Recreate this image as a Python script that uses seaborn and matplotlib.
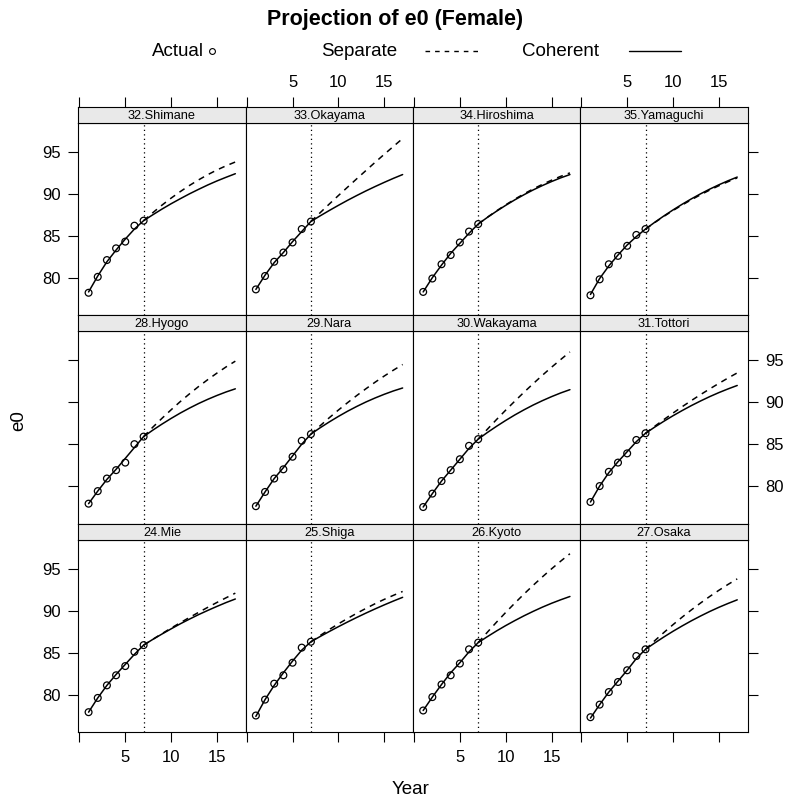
import matplotlib
matplotlib.use("Agg")
import matplotlib.pyplot as plt
from matplotlib.lines import Line2D
import pandas as pd
import seaborn as sns

sns.set_theme(style="ticks", rc={"axes.edgecolor": "black", "axes.linewidth": 0.8,
                                 "xtick.color": "black", "ytick.color": "black",
                                 "text.color": "black", "axes.labelcolor": "black"})
plt.rcParams["font.family"] = ["Liberation Sans", "DejaVu Sans"]

# ---- data -------------------------------------------------------------
years_actual = [1, 2, 3, 4, 5, 6, 7]
years_coherent = list(range(1, 18))
years_separate = list(range(7, 18))
jump_off_year = 7

prefectures = ["24.Mie", "25.Shiga", "26.Kyoto", "27.Osaka",
               "28.Hyogo", "29.Nara", "30.Wakayama", "31.Tottori",
               "32.Shimane", "33.Okayama", "34.Hiroshima", "35.Yamaguchi"]

actual_mie = [77.9, 79.6, 81.1, 82.3, 83.4, 85.1, 85.9]
actual_shiga = [77.5, 79.4, 81.3, 82.3, 83.8, 85.6, 86.3]
actual_kyoto = [78.1, 79.7, 81.2, 82.3, 83.7, 85.4, 86.2]
actual_osaka = [77.3, 78.8, 80.3, 81.5, 82.9, 84.6, 85.4]
actual_hyogo = [77.9, 79.4, 80.9, 81.9, 82.8, 85.0, 85.9]
actual_nara = [77.6, 79.3, 80.9, 82.0, 83.5, 85.4, 86.2]
actual_wakayama = [77.5, 79.1, 80.6, 81.9, 83.2, 84.8, 85.6]
actual_tottori = [78.1, 80.0, 81.7, 82.8, 83.9, 85.5, 86.3]
actual_shimane = [78.2, 80.1, 82.1, 83.5, 84.3, 86.2, 86.8]
actual_okayama = [78.6, 80.2, 81.9, 83.0, 84.2, 85.8, 86.7]
actual_hiroshima = [78.3, 79.9, 81.6, 82.7, 84.2, 85.5, 86.4]
actual_yamaguchi = [77.9, 79.8, 81.6, 82.6, 83.8, 85.1, 85.8]

coherent_mie = [77.9, 79.6, 81.1, 82.4, 83.6, 84.8, 85.9, 86.58, 87.22, 87.84, 88.44,
                89.00, 89.54, 90.04, 90.52, 90.98, 91.40]
coherent_shiga = [77.4, 79.4, 81.1, 82.6, 84.0, 85.3, 86.3, 86.92, 87.52, 88.10, 88.66,
                  89.20, 89.72, 90.22, 90.70, 91.16, 91.60]
coherent_kyoto = [78.1, 79.7, 81.2, 82.6, 83.8, 85.1, 86.2, 86.91, 87.59, 88.23, 88.83,
                  89.40, 89.93, 90.43, 90.89, 91.31, 91.70]
coherent_osaka = [77.2, 78.8, 80.3, 81.6, 82.9, 84.3, 85.4, 86.15, 86.87, 87.55, 88.19,
                  88.80, 89.37, 89.91, 90.41, 90.87, 91.30]
coherent_hyogo = [77.9, 79.4, 80.8, 82.0, 83.3, 84.6, 85.9, 86.67, 87.39, 88.07, 88.71,
                  89.30, 89.85, 90.35, 90.81, 91.23, 91.60]
coherent_nara = [77.6, 79.3, 80.9, 82.2, 83.6, 85.0, 86.2, 86.95, 87.65, 88.31, 88.93,
                 89.50, 90.03, 90.51, 90.95, 91.35, 91.70]
coherent_wakayama = [77.5, 79.1, 80.6, 81.9, 83.2, 84.5, 85.6, 86.39, 87.13, 87.83, 88.49,
                     89.10, 89.67, 90.19, 90.67, 91.11, 91.50]
coherent_tottori = [78.1, 80.0, 81.6, 82.9, 84.1, 85.3, 86.3, 87.03, 87.73, 88.39, 89.01,
                    89.60, 90.15, 90.67, 91.15, 91.59, 92.00]
coherent_shimane = [78.3, 80.2, 81.9, 83.3, 84.6, 85.8, 86.8, 87.50, 88.18, 88.82, 89.42,
                    90.00, 90.54, 91.06, 91.54, 91.98, 92.40]
coherent_okayama = [78.6, 80.3, 81.8, 83.0, 84.3, 85.5, 86.7, 87.37, 88.01, 88.63, 89.23,
                    89.80, 90.35, 90.87, 91.37, 91.85, 92.30]
coherent_hiroshima = [78.3, 80.0, 81.5, 82.9, 84.1, 85.3, 86.4, 87.19, 87.93, 88.63, 89.29,
                      89.90, 90.47, 90.99, 91.47, 91.91, 92.30]
coherent_yamaguchi = [78.0, 79.9, 81.4, 82.7, 83.9, 84.9, 85.8, 86.60, 87.36, 88.08, 88.76,
                      89.40, 90.00, 90.56, 91.08, 91.56, 92.00]

separate_mie = [85.9, 86.59, 87.27, 87.93, 88.57, 89.20, 89.81, 90.41, 90.99, 91.55, 92.10]
separate_shiga = [86.3, 87.04, 87.76, 88.44, 89.08, 89.70, 90.28, 90.84, 91.36, 91.84, 92.30]
separate_kyoto = [86.2, 87.44, 88.64, 89.80, 90.92, 92.00, 93.04, 94.04, 95.00, 95.92, 96.80]
separate_osaka = [85.4, 86.42, 87.40, 88.34, 89.24, 90.10, 90.92, 91.70, 92.44, 93.14, 93.80]
separate_hyogo = [85.9, 87.02, 88.08, 89.10, 90.08, 91.00, 91.88, 92.70, 93.48, 94.22, 94.90]
separate_nara = [86.2, 87.19, 88.15, 89.07, 89.95, 90.80, 91.61, 92.39, 93.13, 93.83, 94.50]
separate_wakayama = [85.6, 86.78, 87.94, 89.06, 90.14, 91.20, 92.22, 93.22, 94.18, 95.10, 96.00]
separate_tottori = [86.3, 87.13, 87.93, 88.71, 89.47, 90.20, 90.91, 91.59, 92.25, 92.89, 93.50]
separate_shimane = [86.8, 87.75, 88.65, 89.49, 90.27, 91.00, 91.67, 92.29, 92.85, 93.35, 93.80]
separate_okayama = [86.7, 87.74, 88.78, 89.80, 90.80, 91.80, 92.78, 93.76, 94.72, 95.66, 96.60]
separate_hiroshima = [86.4, 87.21, 87.97, 88.69, 89.37, 90.00, 90.59, 91.13, 91.63, 92.09, 92.50]
separate_yamaguchi = [85.8, 86.57, 87.31, 88.01, 88.67, 89.30, 89.89, 90.45, 90.97, 91.45, 91.90]

x_ticks = [0, 5, 10, 15]
x_tick_labels = ["", "5", "10", "15"]
y_ticks = [80, 85, 90, 95]

actual_all = [actual_mie, actual_shiga, actual_kyoto, actual_osaka,
              actual_hyogo, actual_nara, actual_wakayama, actual_tottori,
              actual_shimane, actual_okayama, actual_hiroshima, actual_yamaguchi]
coherent_all = [coherent_mie, coherent_shiga, coherent_kyoto, coherent_osaka,
                coherent_hyogo, coherent_nara, coherent_wakayama, coherent_tottori,
                coherent_shimane, coherent_okayama, coherent_hiroshima, coherent_yamaguchi]
separate_all = [separate_mie, separate_shiga, separate_kyoto, separate_osaka,
                separate_hyogo, separate_nara, separate_wakayama, separate_tottori,
                separate_shimane, separate_okayama, separate_hiroshima, separate_yamaguchi]

records = []
for name, act, coh, sep in zip(prefectures, actual_all, coherent_all, separate_all):
    records += [(name, "Actual", y, v) for y, v in zip(years_actual, act)]
    records += [(name, "Coherent", y, v) for y, v in zip(years_coherent, coh)]
    records += [(name, "Separate", y, v) for y, v in zip(years_separate, sep)]
df = pd.DataFrame(records, columns=["region", "kind", "year", "e0"])

# ---- layout (lattice style 4 x 3, bottom row first in panel order) -----
W, H = 787, 798
fig = plt.figure(figsize=(W / 100, H / 100), dpi=100)
fig.patch.set_facecolor("white")

col_left = [78.3, 245.6, 412.9, 580.2]
col_w = 167.3
row_top = [107.0, 315.4, 523.9]
strip_h = 16.0
panel_h = 192.4
xlim = (-0.12, 18.12)
ylim = (75.5, 98.45)

grid = [prefectures[8:12], prefectures[4:8], prefectures[0:4]]

tick_kw = dict(direction="out", length=7, width=0.8, pad=5.5, labelsize=12)

for r in range(3):
    for c in range(4):
        name = grid[r][c]
        sub = df[df["region"] == name]
        x0 = col_left[c] / W
        w = col_w / W
        top = row_top[r]
        ax = fig.add_axes([x0, 1 - (top + strip_h + panel_h) / H, w, panel_h / H])
        sax = fig.add_axes([x0, 1 - (top + strip_h) / H, w, strip_h / H])

        ax.axvline(jump_off_year, color="black", lw=0.9, ls=(0, (1, 2.6)), zorder=1)
        sns.lineplot(data=sub[sub["kind"] == "Separate"], x="year", y="e0", ax=ax,
                     color="black", lw=1.1, ls=(0, (4, 3.5)), errorbar=None,
                     legend=False, zorder=2)
        sns.lineplot(data=sub[sub["kind"] == "Coherent"], x="year", y="e0", ax=ax,
                     color="black", lw=1.1, errorbar=None, legend=False, zorder=3)
        sns.scatterplot(data=sub[sub["kind"] == "Actual"], x="year", y="e0", ax=ax,
                        color="black", facecolor="none", edgecolor="black",
                        s=24, linewidth=0.9, legend=False, zorder=4)

        ax.set_xlim(*xlim)
        ax.set_ylim(*ylim)
        ax.set_xlabel("")
        ax.set_ylabel("")
        ax.set_xticks(x_ticks)
        ax.set_xticklabels(x_tick_labels)
        ax.set_yticks(y_ticks)
        ax.tick_params(**tick_kw)
        ax.tick_params(axis="x", bottom=(r == 2), top=False,
                       labelbottom=(r == 2 and c in (0, 2)), labeltop=False)
        ax.tick_params(axis="y", left=(c == 0), right=(c == 3),
                       labelleft=(c == 0 and r in (0, 2)),
                       labelright=(c == 3 and r == 1))
        for sp in ax.spines.values():
            sp.set_visible(True)
            sp.set_color("black")
            sp.set_linewidth(0.8)

        # strip with the region name
        sax.set_facecolor("#e9e9e9")
        sax.set_xlim(*xlim)
        sax.set_ylim(0, 1)
        sax.set_yticks([])
        sax.set_xticks(x_ticks)
        sax.set_xticklabels(x_tick_labels)
        sax.tick_params(**tick_kw)
        sax.tick_params(axis="x", bottom=False, labelbottom=False, top=(r == 0),
                        labeltop=(r == 0 and c in (1, 3)))
        for sp in sax.spines.values():
            sp.set_visible(True)
            sp.set_color("black")
            sp.set_linewidth(0.8)
        sax.text(0.5, 0.45, name, transform=sax.transAxes, ha="center", va="center",
                 fontsize=9.2)

# ---- title, key and axis labels ---------------------------------------
fig.text(395 / W, 1 - 20 / H, "Projection of e0 (Female)", ha="center", va="center",
         fontsize=15.5, fontweight="bold")

key_y = 1 - 51 / H
fig.text(204 / W, key_y, "Actual", ha="right", va="center", fontsize=13.5)
fig.add_artist(Line2D([212 / W], [key_y], transform=fig.transFigure, marker="o",
                      markersize=4.2, markerfacecolor="none", markeredgecolor="black",
                      markeredgewidth=0.8, ls="none"))
fig.text(397 / W, key_y, "Separate", ha="right", va="center", fontsize=13.5)
fig.add_artist(Line2D([425 / W, 480 / W], [key_y, key_y], transform=fig.transFigure,
                      color="black", lw=1.0, ls=(0, (3.3, 3.6))))
fig.text(599 / W, key_y, "Coherent", ha="right", va="center", fontsize=13.5)
fig.add_artist(Line2D([629 / W, 681 / W], [key_y, key_y], transform=fig.transFigure,
                      color="black", lw=1.0))

fig.text(411 / W, 1 - 789 / H, "Year", ha="center", va="center", fontsize=13.5)
fig.text(19 / W, 1 - 421 / H, "e0", ha="center", va="center", rotation=90, fontsize=13.5)

fig.savefig("out.png", dpi=100, facecolor="white")
